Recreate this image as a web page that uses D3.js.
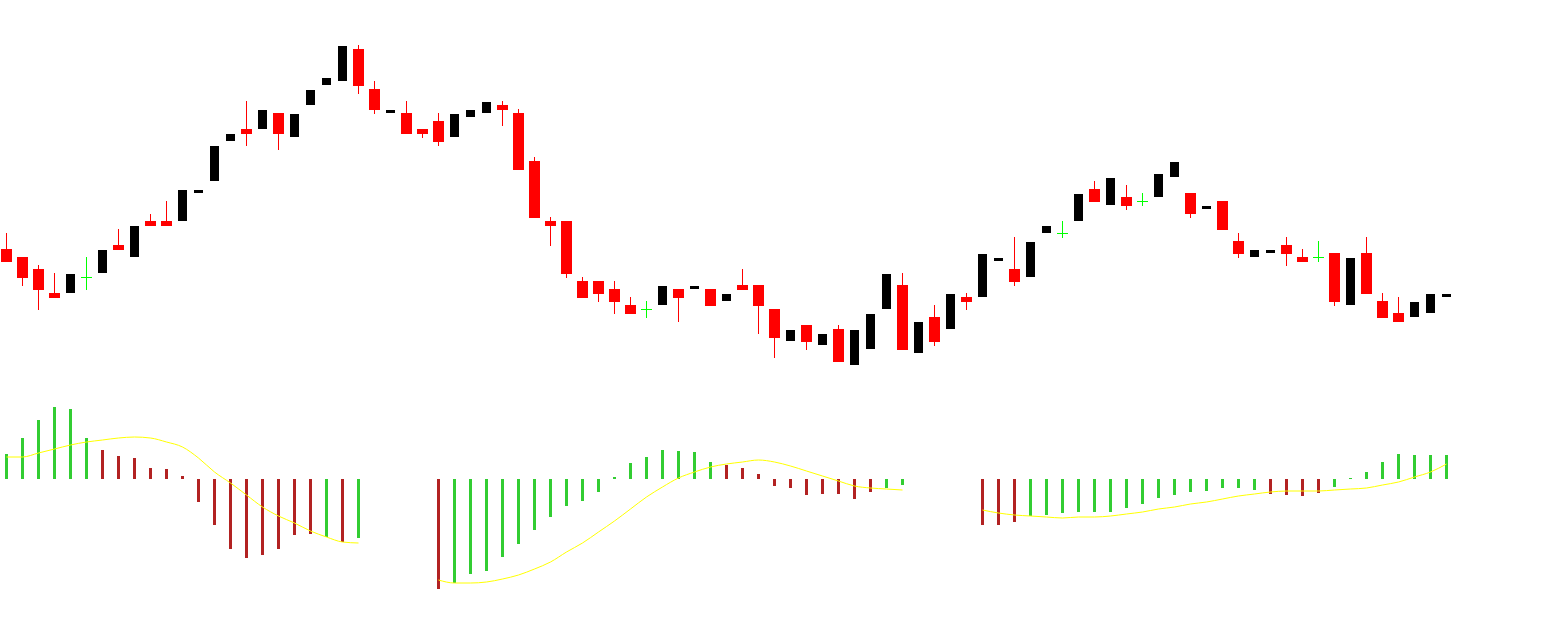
<!DOCTYPE html>
<html>
<head>
<meta charset="utf-8">
<script src="https://cdn.jsdelivr.net/npm/d3@7/dist/d3.min.js"></script>
<style>
  body { margin: 0; background: #ffffff; }
</style>
</head>
<body>
<div id="chart"></div>
<script>
// Chart size
const width = 1549;
const height = 622;

// Candles (price units), one entry per bar
const opens  = [351,343,331,307,307,323,327,355,343,379,379,379,407,419,459,471,471,487,463,495,515,519,551,511,487,487,471,479,463,483,487,495,487,439,379,379,319,319,311,295,291,295,311,311,311,299,315,315,291,259,275,255,271,235,251,291,315,247,283,271,303,303,339,331,323,367,367,379,411,395,403,399,403,423,407,391,399,359,343,347,355,343,343,347,295,347,299,287,283,287,303];
const highs  = [367,343,335,327,326,343,350,371,374,386,399,410,410,454,466,499,490,487,486,510,522,554,555,519,490,499,471,487,486,490,498,499,491,443,383,379,323,319,319,303,299,314,311,314,311,306,331,315,291,270,275,266,275,270,286,326,327,278,295,306,307,346,342,363,358,374,379,406,419,422,415,407,426,438,407,394,399,367,350,350,363,351,359,347,342,363,307,303,298,306,306];
const lows   = [338,314,290,302,307,310,327,350,343,374,374,379,407,419,459,454,471,450,463,495,515,519,506,486,487,466,462,454,463,483,487,474,430,382,354,322,302,298,286,286,282,295,278,311,294,299,310,266,242,259,250,255,238,235,251,291,250,247,254,271,290,303,339,314,323,367,362,379,398,395,390,394,403,423,382,391,370,342,343,347,334,338,338,294,295,306,282,278,283,287,303];
const closes = [338,322,310,302,326,323,350,350,374,374,374,410,410,454,466,466,490,466,486,510,522,554,514,490,490,466,466,458,486,490,498,490,430,382,374,326,302,306,298,286,291,314,302,314,294,306,310,294,262,270,258,266,238,270,286,326,250,278,258,306,298,346,342,318,358,374,367,406,398,422,394,399,426,438,386,394,370,346,350,350,346,338,343,298,342,306,282,278,298,306,306];

// MACD histogram (null = no value) and its colours: v = green, r = brown
const histograma = [
  0.25,0.41,0.59,0.72,0.70,0.41,0.29,0.23,0.21,0.11,0.10,0.03,-0.23,-0.46,-0.70,-0.79,-0.76,-0.70,-0.56,-0.55,-0.58,-0.63,-0.59,
  null,null,null,null,
  -1.10,-1.04,-0.95,-0.92,-0.78,-0.65,-0.51,-0.38,-0.27,-0.22,-0.13,0.02,0.16,0.22,0.29,0.28,0.27,0.17,0.14,0.11,0.05,-0.07,-0.09,-0.16,-0.15,-0.15,-0.20,-0.13,-0.09,-0.06,
  null,null,null,null,
  -0.46,-0.46,-0.43,-0.37,-0.36,-0.34,-0.33,-0.33,-0.33,-0.29,-0.25,-0.19,-0.16,-0.13,-0.12,-0.09,-0.09,-0.11,-0.15,-0.16,-0.17,-0.14,-0.08,0.01,0.07,0.17,0.25,0.24,0.24,0.24
];
const coloresHist = [
  "v","v","v","v","v","v","r","r","r","r","r","r","r","r","r","r","r","r","r","r","v","r","v",
  null,null,null,null,
  "r","v","v","v","v","v","v","v","v","v","v","v","v","v","v","v","v","v","r","r","r","r","r","r","r","r","r","r","v","v",
  null,null,null,null,
  "r","r","r","v","v","v","v","v","v","v","v","v","v","v","v","v","v","v","r","r","r","r","v","v","v","v","v","v","v","v"
];
// Signal line
const senal = [
  0.22,0.22,0.26,0.30,0.34,0.37,0.39,0.41,0.42,0.41,0.37,0.32,0.21,0.07,-0.04,-0.16,-0.28,-0.37,-0.44,-0.52,-0.58,-0.63,-0.64,
  null,null,null,null,
  -1.01,-1.04,-1.04,-1.03,-1.00,-0.96,-0.90,-0.83,-0.73,-0.64,-0.53,-0.42,-0.30,-0.18,-0.08,0.01,0.07,0.12,0.15,0.17,0.19,0.17,0.13,0.08,0.03,-0.02,-0.07,-0.09,-0.10,-0.11,
  null,null,null,null,
  -0.31,-0.34,-0.36,-0.37,-0.38,-0.39,-0.38,-0.38,-0.37,-0.35,-0.33,-0.30,-0.28,-0.25,-0.23,-0.20,-0.17,-0.15,-0.13,-0.12,-0.12,-0.12,-0.11,-0.10,-0.09,-0.06,-0.03,0.02,0.07,0.15
];

const rojo = "#ff0000";
const negro = "#000000";
const verdeDoji = "#00ff00";
const verdeHist = "#32cd32";
const marronHist = "#b22222";
const amarillo = "#ffff00";

const svg = d3.select("#chart")
  .append("svg")
  .attr("width", width)
  .attr("height", height)
  .style("display", "block")
  .style("background", "#ffffff");

// Scales
const x = d3.scaleLinear()
  .domain([0, opens.length - 1])
  .range([6, 1446]);

const yPrecio = d3.scaleLinear()
  .domain([0, 600])
  .range([600, 0]);

const yMacd = d3.scaleLinear()
  .domain([0, 1])
  .range([479, 379]);

const velas = opens.map((o, i) => ({
  i: i, o: o, h: highs[i], l: lows[i], c: closes[i]
}));

// Wicks: only down candles and dojis show them
const gVelas = svg.append("g").attr("shape-rendering", "crispEdges");

gVelas.selectAll("rect.mecha")
  .data(velas.filter(d => d.c <= d.o))
  .enter()
  .append("rect")
  .attr("class", "mecha")
  .attr("x", d => Math.round(x(d.i)))
  .attr("width", 1)
  .attr("y", d => yPrecio(d.h))
  .attr("height", d => Math.max(1, yPrecio(d.l) - yPrecio(d.h)))
  .attr("fill", d => d.c === d.o ? verdeDoji : rojo);

// Bodies
gVelas.selectAll("rect.cuerpo")
  .data(velas)
  .enter()
  .append("rect")
  .attr("class", "cuerpo")
  .attr("x", d => Math.round(x(d.i)) - (d.c > d.o ? 4 : 5))
  .attr("width", d => d.c > d.o ? 9 : 11)
  .attr("y", d => yPrecio(Math.max(d.o, d.c)))
  .attr("height", d => Math.max(1, Math.abs(d.o - d.c)))
  .attr("fill", d => d.c > d.o ? negro : (d.c < d.o ? rojo : verdeDoji));

// MACD histogram
const barras = histograma
  .map((v, i) => ({ i: i, v: v, col: coloresHist[i] }))
  .filter(d => d.v !== null);

svg.append("g")
  .attr("shape-rendering", "crispEdges")
  .selectAll("rect")
  .data(barras)
  .enter()
  .append("rect")
  .attr("x", d => Math.round(x(d.i)) - 1)
  .attr("width", 3)
  .attr("y", d => Math.min(yMacd(0), yMacd(d.v)))
  .attr("height", d => Math.abs(yMacd(d.v) - yMacd(0)))
  .attr("fill", d => d.col === "v" ? verdeHist : marronHist);

// Signal line, broken where there is no data
const linea = d3.line()
  .defined(d => d !== null)
  .x((d, i) => x(i) + 0.5)
  .y(d => yMacd(d))
  .curve(d3.curveMonotoneX);

svg.append("path")
  .datum(senal)
  .attr("d", linea)
  .attr("fill", "none")
  .attr("stroke", amarillo)
  .attr("stroke-width", 1);
</script>
</body>
</html>
